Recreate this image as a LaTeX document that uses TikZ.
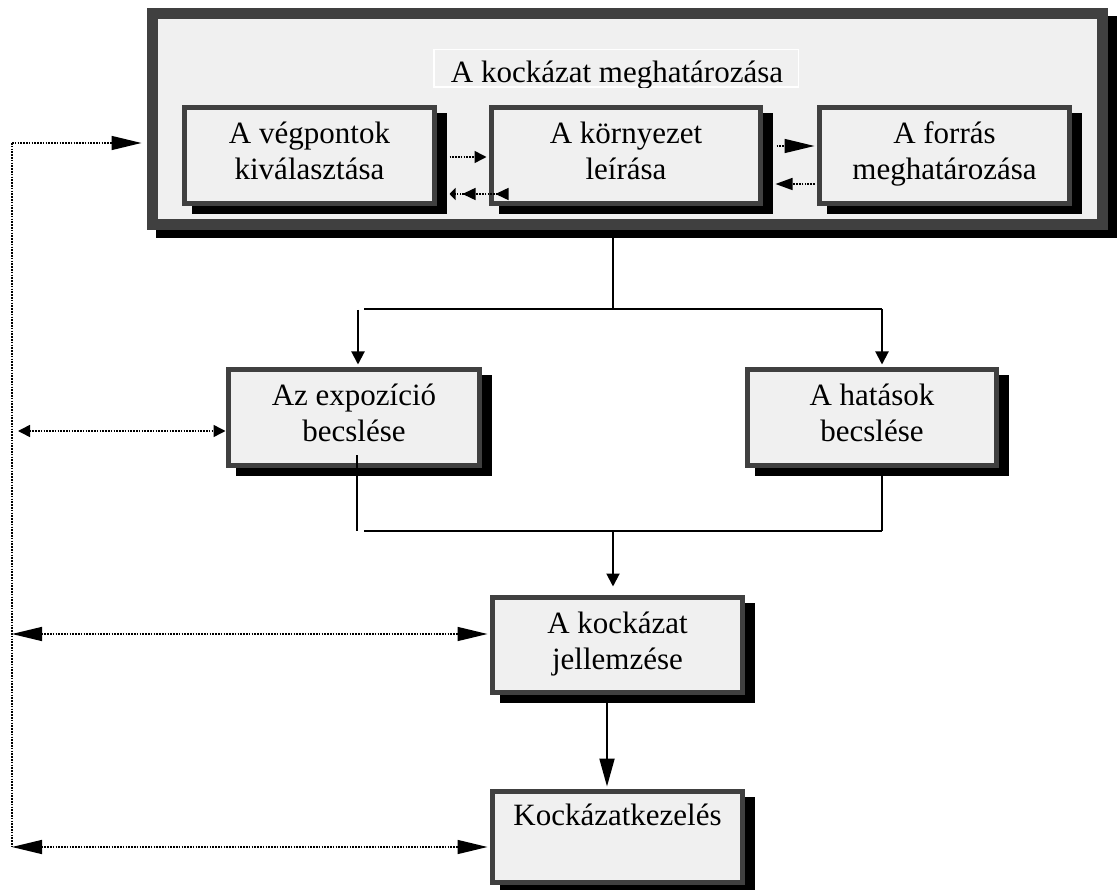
\documentclass[tikz,border=0pt]{standalone}
\usepackage{fontspec}
\setmainfont{Liberation Serif}
\usetikzlibrary{arrows.meta,shadows}
\definecolor{boxfill}{HTML}{F0F0F0}
\definecolor{boxedge}{HTML}{404040}
% fixed line height/depth so every box sets its lines alike
\newcommand{\lstrut}{\rule[-10pt]{0pt}{32pt}}
\tikzset{
  boxtext/.style={font=\fontsize{31pt}{36pt}\selectfont},
  panel/.style={draw=boxedge, fill=boxfill, line width=5pt, inner sep=0pt,
    align=center, boxtext,
    general shadow={shadow xshift=10pt, shadow yshift=-8pt, fill=black, draw=black}},
  frame/.style={draw=boxedge, fill=boxfill, line width=11pt, inner sep=0pt,
    general shadow={shadow xshift=9pt, shadow yshift=-8pt, fill=black, draw=black}},
  titlebox/.style={draw=white, fill=boxfill, line width=1.5pt, inner sep=0pt},
  conn/.style={draw=black, line width=2pt},
  fb/.style={draw=black, line width=1.5pt, dash pattern=on 1.6pt off 1.2pt},
  headS/.tip={Triangle[length=12pt,width=12pt]},
  headL/.tip={Triangle[length=30pt,width=14pt]},
  headM/.tip={Triangle[length=17pt,width=12pt]},
  headD/.tip={Triangle[length=13pt,width=13pt]},
  headK/.tip={Triangle[length=28pt,width=15pt]},
}
\begin{document}
\begin{tikzpicture}[x=1pt, y=-1pt]
\useasboundingbox (0,0) rectangle (1117,890);

% outer frame with its title
\node[frame, minimum width=950pt, minimum height=211pt] (outer) at (627.5,119) {};
\node[titlebox, minimum width=364.5pt, minimum height=37.5pt] (title) at (616,68.5) {};
\begin{scope}
  \clip ([shift={(0.75pt,-0.75pt)}]title.north west) rectangle ([shift={(-0.75pt,0.75pt)}]title.south east);
  \node[boxtext, anchor=base, inner sep=0pt] (titletext) at (617,83) {A kockázat meghatározása};
\end{scope}

% steps inside the frame
\node[panel, minimum width=250pt, minimum height=96pt] (b1) at (309.5,155.5) {\lstrut A végpontok\\\lstrut kiválasztása};
\node[panel, minimum width=269pt, minimum height=96pt] (b2) at (626,155.5) {\lstrut A környezet\\\lstrut leírása};
\node[panel, minimum width=250pt, minimum height=96pt] (b3) at (944.5,155.5) {\lstrut A forrás\\\lstrut meghatározása};

% lower steps
\node[panel, minimum width=251pt, minimum height=96pt] (expo) at (354,417.5) {\lstrut Az expozíció\\\lstrut becslése};
\node[panel, minimum width=249pt, minimum height=96pt] (hat) at (872,417.5) {\lstrut A hatások\\\lstrut becslése};
\node[panel, minimum width=250pt, minimum height=95pt] (jell) at (617.5,645) {\lstrut A kockázat\\\lstrut jellemzése};
\node[panel, minimum width=250pt, minimum height=91pt] (kez) at (617.5,837) {\lstrut Kockázatkezelés\\\lstrut};

% branching points
\coordinate (split) at (613,309);
\coordinate (splitL) at (364,309);
\coordinate (splitR) at (882,309);
\coordinate (dropL) at (358,310);
\coordinate (join) at (613,531);
\coordinate (joinL) at (357,531);
\coordinate (joinLs) at (364,531);
\coordinate (joinR) at (882,531);
\coordinate (fbTop) at (12,143);
\coordinate (fbExp) at (18,431);
\coordinate (fbJel) at (12,634);
\coordinate (fbKez) at (12,847);

% main flow
\draw[conn] ([yshift=-6pt]outer.south -| split) -- (split);
\draw[conn] (splitL) -- (splitR);
\draw[conn,-headD] (dropL) -- ([yshift=2.5pt]expo.north -| dropL);
\draw[conn,-headD] (splitR) -- ([yshift=2.5pt]hat.north -| splitR);
\draw[conn] ([yshift=12.5pt]expo.south -| joinL) -- (joinL);
\draw[conn] ([yshift=-4.5pt]hat.south -| joinR) -- (joinR);
\draw[conn] (joinLs) -- (joinR);
\draw[conn,-headD] (join) -- ([yshift=8.5pt]jell.north -| join);
\draw[conn,-headK] ([xshift=-10.5pt]jell.south) -- ([xshift=-10.5pt,yshift=2.5pt]kez.north);

% feedback links on the left
\draw[fb] (fbTop) -- (fbKez);
\draw[fb,-headL] (fbTop) -- ([xshift=-5.5pt]outer.west |- fbTop);
\draw[fb,headS-headS] (fbExp) -- ([xshift=-0.5pt]expo.west |- fbExp);
\draw[fb,headL-headL] (fbJel) -- ([xshift=-2.5pt]jell.west |- fbJel);
\draw[fb,headL-headL] (fbKez) -- ([xshift=-2.5pt]kez.west |- fbKez);

% links between the steps inside the frame
\draw[fb,-headS] ([shift={(12.5pt,-1.5pt)}]b1.east) -- ([shift={(-2.5pt,-1.5pt)}]b2.west);
\draw[fb,-headL] ([shift={(13.5pt,9.5pt)}]b2.east) -- ([shift={(-2.5pt,9.5pt)}]b3.west);
\draw[fb,-headM] ([shift={(-2.5pt,-28.5pt)}]b3.west) -- ([shift={(12.5pt,-28.5pt)}]b2.east);
\draw[fb,{Triangle[reversed,length=13pt,width=12pt]}-{Triangle[length=13pt,width=12pt,sep=7pt] Triangle[length=6pt,width=12pt]}]
  ([shift={(19.5pt,-38.5pt)}]b2.west) -- ([shift={(12.5pt,-38.5pt)}]b1.east);
\end{tikzpicture}
\end{document}
